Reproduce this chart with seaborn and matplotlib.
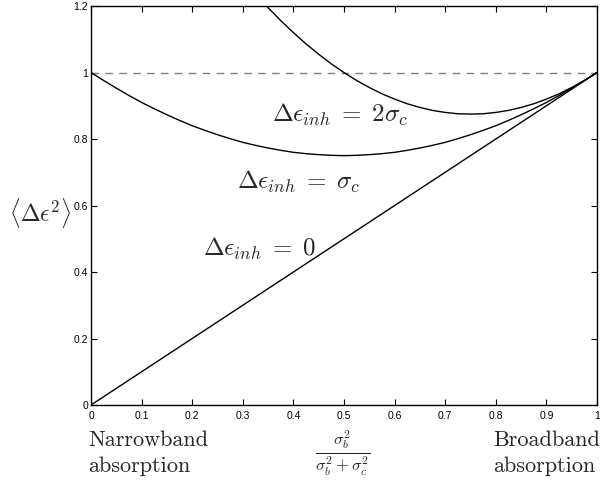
import matplotlib
matplotlib.use("Agg")
import matplotlib.pyplot as plt
import seaborn as sns

# Normalised broadband fraction sigma_b^2 / (sigma_b^2 + sigma_c^2)
frac = [0.0, 0.5, 1.0]
# <Δε²> for Δε_inh = 0 (straight line)
var_inh_zero = [0.0, 0.5, 1.0]

# <Δε²> for Δε_inh = σ_c
frac_one = [0.000, 0.025, 0.050, 0.075, 0.100, 0.125, 0.150, 0.175, 0.200, 0.225,
            0.250, 0.275, 0.300, 0.325, 0.350, 0.375, 0.400, 0.425, 0.450, 0.475,
            0.500, 0.525, 0.550, 0.575, 0.600, 0.625, 0.650, 0.675, 0.700, 0.725,
            0.750, 0.775, 0.800, 0.825, 0.850, 0.875, 0.900, 0.925, 0.950, 0.975,
            1.000]
var_inh_one = [1.000, 0.976, 0.953, 0.931, 0.910, 0.891, 0.873, 0.856, 0.840, 0.826,
               0.813, 0.801, 0.790, 0.781, 0.773, 0.766, 0.760, 0.756, 0.753, 0.751,
               0.750, 0.751, 0.753, 0.756, 0.760, 0.766, 0.773, 0.781, 0.790, 0.801,
               0.813, 0.826, 0.840, 0.856, 0.873, 0.891, 0.910, 0.931, 0.953, 0.976,
               1.000]

# <Δε²> for Δε_inh = 2σ_c (leaves the frame at the top for small fractions)
frac_two = [0.325, 0.350, 0.375, 0.400, 0.425, 0.450, 0.475, 0.500, 0.525, 0.550,
            0.575, 0.600, 0.625, 0.650, 0.675, 0.700, 0.725, 0.750, 0.775, 0.800,
            0.825, 0.850, 0.875, 0.900, 0.925, 0.950, 0.975, 1.000]
var_inh_two = [1.236, 1.195, 1.156, 1.120, 1.086, 1.055, 1.026, 1.000, 0.976, 0.955,
               0.936, 0.920, 0.906, 0.895, 0.886, 0.880, 0.876, 0.875, 0.876, 0.880,
               0.886, 0.895, 0.906, 0.920, 0.936, 0.955, 0.976, 1.000]

reference_level = [1.0]

x_ticks = [0.0, 0.1, 0.2, 0.3, 0.4, 0.5, 0.6, 0.7, 0.8, 0.9, 1.0]
x_tick_labels = ["0", "0.1", "0.2", "0.3", "0.4", "0.5", "0.6", "0.7", "0.8", "0.9", "1"]
y_ticks = [0.0, 0.2, 0.4, 0.6, 0.8, 1.0, 1.2]
y_tick_labels = ["0", "0.2", "0.4", "0.6", "0.8", "1", "1.2"]

sns.set_theme(style="ticks")
plt.rcParams["font.family"] = ["Liberation Sans", "DejaVu Sans"]
plt.rcParams["mathtext.fontset"] = "cm"

fig = plt.figure(figsize=(6.0, 4.83), dpi=100)
ax = fig.add_axes([0.1517, 0.1615, 0.8433, 0.826])

line_kw = dict(color="black", linewidth=1.0, ax=ax, legend=False)
sns.lineplot(x=frac, y=var_inh_zero, **line_kw)
sns.lineplot(x=frac_one, y=var_inh_one, **line_kw)
sns.lineplot(x=frac_two, y=var_inh_two, **line_kw)

ax.axhline(reference_level[0], color="#808080", linewidth=1.0,
           linestyle=(0, (5.5, 4.5)), zorder=1)

ax.set_xlim(0, 1)
ax.set_ylim(0, 1.2)
ax.set_xticks(x_ticks)
ax.set_xticklabels(x_tick_labels)
ax.set_yticks(y_ticks)
ax.set_yticklabels(y_tick_labels)
ax.tick_params(direction="in", top=True, right=True, length=4, width=0.8,
               labelsize=7.5, colors="black")
ax.tick_params(axis="y", pad=2)
ax.tick_params(axis="x", pad=4)
for spine in ax.spines.values():
    spine.set_visible(True)
    spine.set_color("black")
    spine.set_linewidth(1.0)

ax.set_xlabel("")
ax.set_ylabel("")

# Curve annotations
ann_kw = dict(fontsize=18, va="baseline", ha="left")
ax.text(0.358, 0.851, r"$\Delta\epsilon_{inh}\;=\;2\sigma_c$", **ann_kw)
ax.text(0.289, 0.650, r"$\Delta\epsilon_{inh}\;=\;\sigma_c$", **ann_kw)
ax.text(0.222, 0.448, r"$\Delta\epsilon_{inh}\;=\;0$", **ann_kw)

# Axis captions
fig.text(9 / 600, 1 - 213 / 483, r"$\langle\Delta\epsilon^2\rangle$", fontsize=17,
         ha="left", va="center")
fig.text(343 / 600, 1 - 453 / 483, r"$\frac{\sigma_b^2}{\sigma_b^2+\sigma_c^2}$", fontsize=17,
         ha="center", va="center")
cap_kw = dict(family="cmr10", fontsize=16, va="baseline")
fig.text(88 / 600, 1 - 446 / 483, "Narrowband", **cap_kw)
fig.text(88 / 600, 1 - 472 / 483, "absorption", **cap_kw)
fig.text(493 / 600, 1 - 446 / 483, "Broadband", **cap_kw)
fig.text(493 / 600, 1 - 472 / 483, "absorption", **cap_kw)

fig.savefig("out.png", dpi=100)
